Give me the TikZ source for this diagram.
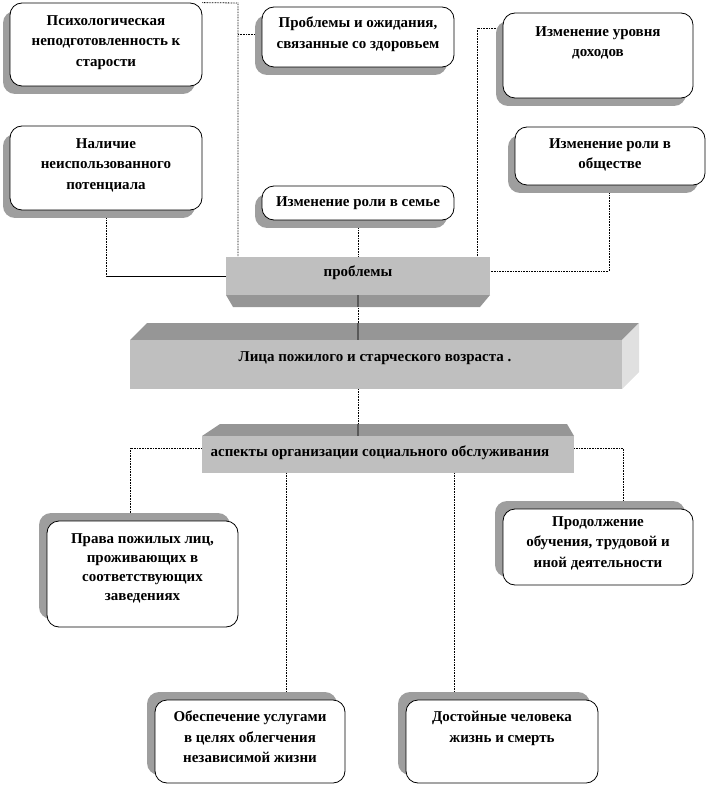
\documentclass[tikz,border=0pt]{standalone}
\usepackage{fontspec}
\setmainfont{Liberation Serif}
\usetikzlibrary{shadows}
\pgfdeclarelayer{bg}
\pgfsetlayers{bg,main}
\begin{document}
\begin{tikzpicture}[x=1pt,y=-1pt,
  rbox/.style={draw=black, line width=0.8pt, fill=white, rounded corners=12pt, inner sep=0pt},
  shdn/.style={drop shadow={shadow xshift=-7pt, shadow yshift=-8pt, fill=black!38, opacity=1}},
  shup/.style={drop shadow={shadow xshift=-8pt, shadow yshift=8pt, fill=black!38, opacity=1}},
  txt/.style={font=\fontsize{15}{20.5}\selectfont\bfseries, align=center, inner sep=0pt, anchor=north},
  stxt/.style={font=\fontsize{15}{20.5}\selectfont\bfseries, inner sep=0pt, anchor=center},
  front/.style={fill=black!25, draw=none, inner sep=0pt},
  topface/.style={fill=black!41},
  sideface/.style={fill=black!12},
  conn/.style={line width=0.8pt, dash pattern=on 0.8pt off 0.8pt},
  sline/.style={line width=0.8pt},
  fline/.style={line width=1.3pt, draw=black!65}]
\useasboundingbox (0,0) rectangle (709,786);

% ---- upper boxes
\node[rbox, shdn, minimum width=192pt, minimum height=83pt] (b1) at (106,44.5) {};
\node[rbox, shdn, minimum width=192pt, minimum height=60pt] (b2) at (358,37) {};
\node[rbox, shdn, minimum width=190pt, minimum height=85pt] (b3) at (598,55.5) {};
\node[rbox, shdn, minimum width=192pt, minimum height=84pt] (b4) at (106,168) {};
\node[rbox, shdn, minimum width=192pt, minimum height=34pt] (b5) at (358,203) {};
\node[rbox, shdn, minimum width=190pt, minimum height=58pt] (b6) at (610,156) {};

\node[txt] (t1) at (106,15) {Психологическая\\неподготовленность к\\старости};
\node[txt] (t2) at (358,17) {Проблемы и ожидания,\\связанные со здоровьем};
\node[txt] (t3) at (598,26) {Изменение уровня\\доходов};
\node[txt] (t4) at (106,138) {Наличие\\неиспользованного\\потенциала};
\node[txt] (t5) at (358,196) {Изменение роли в семье};
\node[txt] (t6) at (610,138) {Изменение роли в\\обществе};

% ---- lower boxes
\node[rbox, shup, minimum width=191pt, minimum height=106pt] (b7) at (142.5,574) {};
\node[rbox, shup, minimum width=190pt, minimum height=76pt] (b8) at (598,547) {};
\node[rbox, shup, minimum width=190pt, minimum height=83pt] (b9) at (250,741.5) {};
\node[rbox, shup, minimum width=192pt, minimum height=83pt] (b10) at (502,741.5) {};

\node[txt, font=\fontsize{15}{19}\selectfont\bfseries] (t7) at (142.5,533) {Права пожилых лиц,\\проживающих в\\соответствующих\\заведениях};
\node[txt] (t8) at (598,516) {Продолжение\\обучения, трудовой и\\иной деятельности};
\node[txt] (t9) at (250,711) {Обеспечение услугами\\в целях облегчения\\независимой жизни};
\node[txt] (t10) at (502,711) {Достойные человека\\жизнь и смерть};

% ---- 3D blocks
% problems
\node[front, minimum width=264pt, minimum height=38pt] (pf) at (358,276) {};
\fill[topface] (226,295) -- (490,295) -- (480,307) -- (233,307) -- cycle;
\node[stxt] (pt) at (358,273) {проблемы};
% main
\fill[topface] (130,340) -- (147,323) -- (639,323) -- (622,340) -- cycle;
\fill[sideface] (622,340) -- (639,323) -- (639,372) -- (622,389) -- cycle;
\node[front, minimum width=492pt, minimum height=49pt] (mf) at (376,364.5) {};
\node[stxt] (mt) at (375,358) {Лица пожилого и старческого возраста .};
% aspects
\fill[topface] (202,436) -- (220,424) -- (567,424) -- (574,436) -- cycle;
\node[front, minimum width=372pt, minimum height=37pt] (af) at (388,454.5) {};
\node[stxt] (at) at (380,453) {аспекты организации социального обслуживания};

% ---- connectors
\coordinate (j1) at (238,3);
\coordinate (j3) at (477,28);
\coordinate (j6) at (609,271);
\coordinate (j9) at (130,448);
\coordinate (j10) at (623,448);
\coordinate (j11) at (286,0);
\coordinate (j12) at (454,0);
\begin{pgfonlayer}{bg}
\draw[conn] (b1.north east) -- (j1) -- (j1 |- pf.north);
\draw[conn] (238,34) -- (238,34 -| b2.west);
\draw[conn] (b4.south) -- (b4.south |- pf.west);
\draw[sline] (b4.south |- pf.west) -- (pf.west);
\draw[conn] (b5.south) -- (b5.south |- pf.north);
\draw[conn] (j3 -| b3.west) -- (j3) -- (j3 |- pf.north);
\draw[conn] (b6.south -| j6) -- (j6) -- (j6 -| pf.east);
\draw[conn] (pf.south) -- (mf.north -| pf.south);
\draw[conn] (mf.south -| pf.south) -- (af.north -| pf.south);
\draw[conn] (af.west |- j9) -- (j9) -- (j9 |- b7.north);
\draw[conn] (af.east |- j10) -- (j10) -- (j10 |- b8.north);
\draw[conn] (af.south -| j11) -- (b9.north -| j11);
\draw[conn] (af.south -| j12) -- (b10.north -| j12);
\end{pgfonlayer}
\draw[fline] (pf.south) -- ++(0,12);
\draw[fline] (mf.north -| pf.south) -- ++(0,-17);
\draw[fline] (af.north -| pf.south) -- ++(0,-12);
\end{tikzpicture}
\end{document}
